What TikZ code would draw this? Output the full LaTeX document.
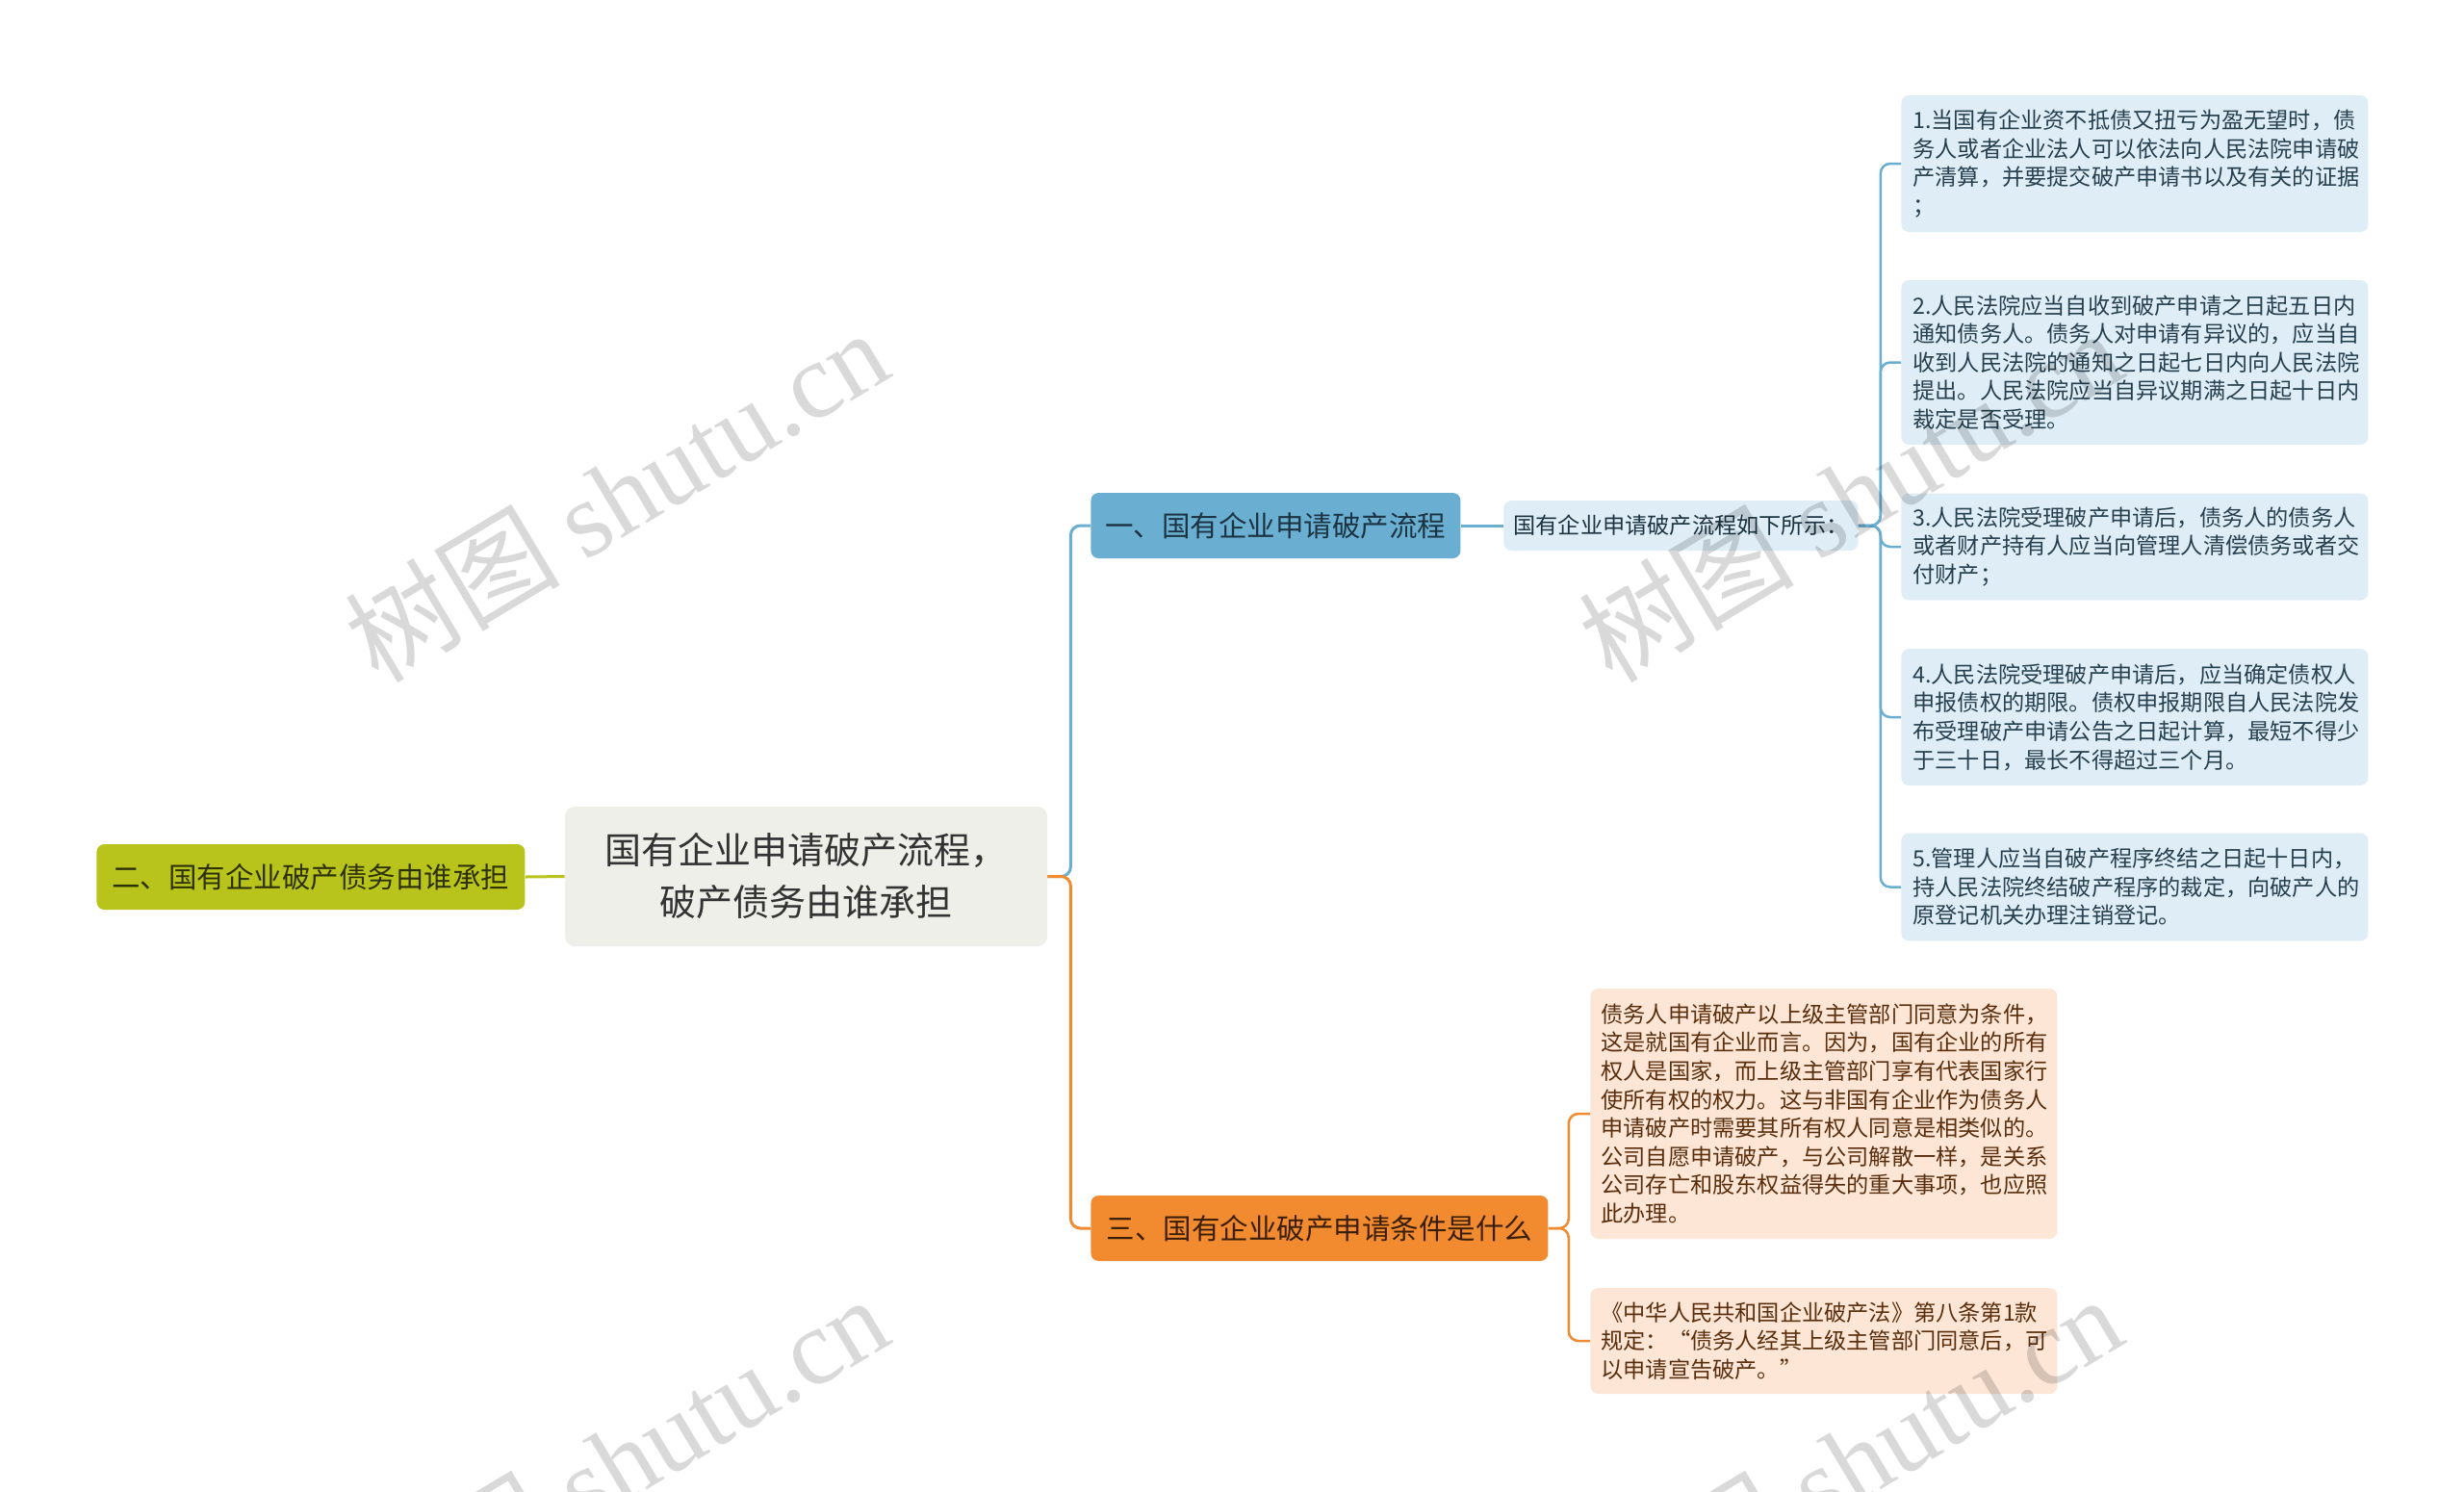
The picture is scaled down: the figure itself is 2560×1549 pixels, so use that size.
\documentclass[tikz,border=0pt]{standalone}
\usepackage{fontspec}
\usepackage{tikz}
\newfontfamily\cjk{Noto Sans CJK SC}
\newfontfamily\wmserif{Liberation Serif}

\definecolor{rootfill}{HTML}{EFEFE9}
\definecolor{roottext}{HTML}{333333}
\definecolor{bluetopic}{HTML}{6AAFD2}
\definecolor{bluetext}{HTML}{1C3442}
\definecolor{bluelight}{HTML}{DFEDF6}
\definecolor{bluelighttext}{HTML}{26404F}
\definecolor{olivetopic}{HTML}{B8C41C}
\definecolor{olivetext}{HTML}{2E3008}
\definecolor{orangetopic}{HTML}{F28B2F}
\definecolor{orangetext}{HTML}{3A1E08}
\definecolor{peach}{HTML}{FDE6D6}
\definecolor{peachtext}{HTML}{5A2E0C}

\tikzset{
  rootbox/.style={fill=rootfill,text=roottext,rounded corners=5pt,inner sep=0pt,
    minimum width=250.5pt,minimum height=72.5pt,align=center,
    font=\cjk\fontsize{19pt}{27pt}\selectfont},
  topicbox/.style={rounded corners=4pt,inner sep=0pt,minimum height=34pt,anchor=west,
    font=\cjk\fontsize{14.75pt}{18pt}\selectfont},
  midbox/.style={fill=bluelight,text=bluetext,rounded corners=4pt,inner sep=0pt,
    minimum width=184pt,minimum height=26pt,anchor=west,
    font=\cjk\fontsize{11.6pt}{14.8pt}\selectfont},
  leafbox/.style={rounded corners=4pt,inner xsep=6pt,inner ysep=0pt,text width=230.5pt,
    align=left,anchor=west,font=\cjk\fontsize{11.6pt}{14.8pt}\selectfont},
  procbox/.style={leafbox,fill=bluelight,text=bluelighttext},
  condbox/.style={leafbox,fill=peach,text=peachtext,inner xsep=5.5pt,text width=231.5pt},
  blueline/.style={draw=bluetopic,line width=1.5pt,rounded corners=5pt},
  bluethin/.style={draw=bluetopic,line width=1.25pt,rounded corners=5pt},
  orangeline/.style={draw=orangetopic,line width=1.5pt,rounded corners=5pt},
  orangethin/.style={draw=orangetopic,line width=1.25pt,rounded corners=5pt},
  oliveline/.style={draw=olivetopic,line width=1.5pt},
  watermark/.style={rotate=31,text=black,text opacity=0.15,inner sep=0pt,
    font=\cjk\fontsize{56pt}{56pt}\selectfont}
}

\begin{document}
\begin{tikzpicture}[x=0.5pt,y=-0.5pt]
\fill[white] (0,0) rectangle (2560,1549);
\useasboundingbox (0,0) rectangle (2560,1549);

% main topic and branches
\node[rootbox] (root) at (837.5,910.5) {国有企业申请破产流程，\\破产债务由谁承担};
\node[topicbox,fill=bluetopic,text=bluetext,minimum width=192pt] (flow) at (1133,546) {一、国有企业申请破产流程};
\node[topicbox,fill=olivetopic,text=olivetext,minimum width=222.5pt] (debt) at (100,911) {二、国有企业破产债务由谁承担};
\node[topicbox,fill=orangetopic,text=orangetext,minimum width=237.5pt] (cond) at (1133,1276) {三、国有企业破产申请条件是什么};
\node[midbox] (flowlist) at (1562,546) {国有企业申请破产流程如下所示：};

% steps of the procedure
\node[procbox,minimum height=71pt] (proc1) at (1975,170) {1.当国有企业资不抵债又扭亏为盈无望时，债\\务人或者企业法人可以依法向人民法院申请破\\产清算，并要提交破产申请书以及有关的证据\\；};
\node[procbox,minimum height=85.5pt] (proc2) at (1975,376.5) {2.人民法院应当自收到破产申请之日起五日内\\通知债务人。债务人对申请有异议的，应当自\\收到人民法院的通知之日起七日内向人民法院\\提出。人民法院应当自异议期满之日起十日内\\裁定是否受理。};
\node[procbox,minimum height=55.5pt] (proc3) at (1975,568) {3.人民法院受理破产申请后，债务人的债务人\\或者财产持有人应当向管理人清偿债务或者交\\付财产；};
\node[procbox,minimum height=71pt] (proc4) at (1975,745) {4.人民法院受理破产申请后，应当确定债权人\\申报债权的期限。债权申报期限自人民法院发\\布受理破产申请公告之日起计算，最短不得少\\于三十日，最长不得超过三个月。};
\node[procbox,minimum height=56pt] (proc5) at (1975,921.5) {5.管理人应当自破产程序终结之日起十日内，\\持人民法院终结破产程序的裁定，向破产人的\\原登记机关办理注销登记。};

% conditions
\node[condbox,minimum height=130pt] (condA) at (1652,1157) {债务人申请破产以上级主管部门同意为条件，\\这是就国有企业而言。因为，国有企业的所有\\权人是国家，而上级主管部门享有代表国家行\\使所有权的权力。这与非国有企业作为债务人\\申请破产时需要其所有权人同意是相类似的。\\公司自愿申请破产，与公司解散一样，是关系\\公司存亡和股东权益得失的重大事项，也应照\\此办理。};
\node[condbox,minimum height=55pt] (condB) at (1652,1393) {《中华人民共和国企业破产法》第八条第1款\\规定：“债务人经其上级主管部门同意后，可\\以申请宣告破产。”};

% connectors
\draw[blueline] (root.east) -- ++(24,0) |- (flow.west);
\draw[orangeline] (root.east) -- ++(24,0) |- (cond.west);
\draw[oliveline] (debt.east) -- (root.west);
\draw[blueline] (flow.east) -- (flowlist.west);
\foreach \i in {1,...,5}
  \draw[bluethin] (flowlist.east) -- ++(23,0) |- (proc\i.west);
\foreach \i in {A,B}
  \draw[orangethin] (cond.east) -- ++(21,0) |- (cond\i.west);

% watermarks
\foreach \wx/\wy [count=\k] in {640/514,1922/514,640/1518,1922/1518}
  \node[watermark] (wm\k) at (\wx,\wy) {树图 {\wmserif shutu.cn}};
\end{tikzpicture}
\end{document}
